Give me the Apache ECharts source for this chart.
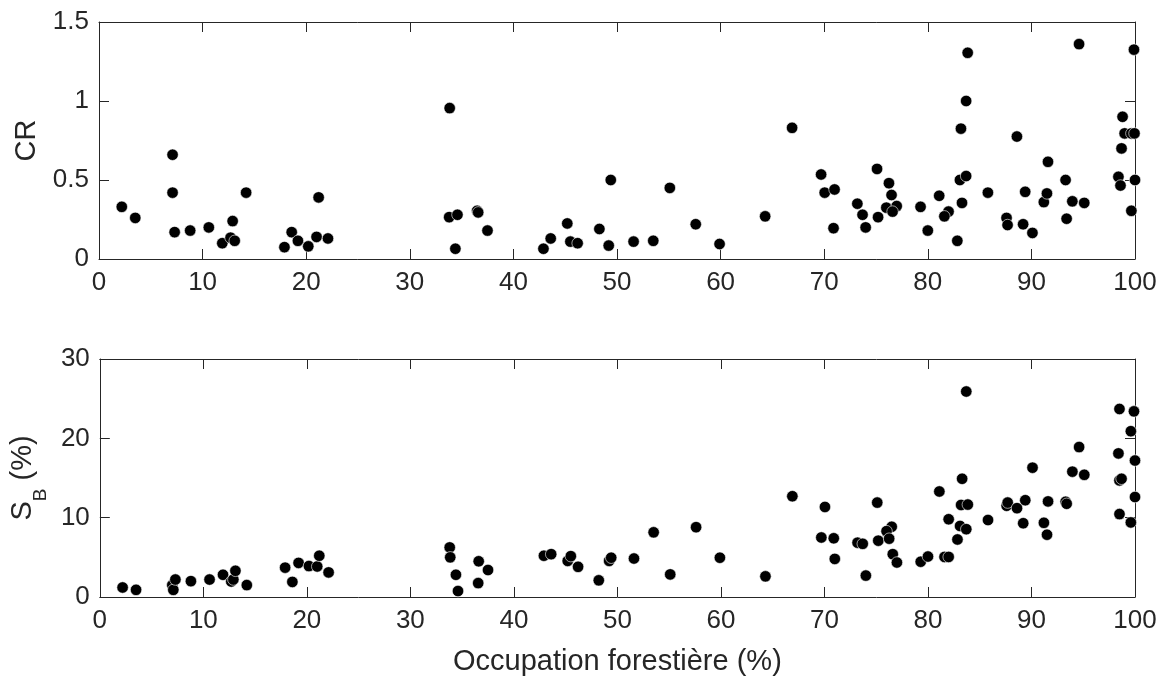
<!DOCTYPE html>
<html>
<head>
<meta charset="utf-8">
<script src="https://cdn.jsdelivr.net/npm/echarts@6/dist/echarts.min.js"></script>
<style>
  html, body { margin: 0; padding: 0; background: #fff; }
  #chart { width: 1163px; height: 679px; }
</style>
</head>
<body>
<div id="chart"></div>
<script>
// données : [occupation forestière (%), valeur]
var xTicks = [0, 10, 20, 30, 40, 50, 60, 70, 80, 90, 100];
var crTicks = [0, 0.5, 1, 1.5];
var sbTicks = [0, 10, 20, 30];

var crPoints = [
  [2.2, 0.33], [3.5, 0.26], [7.1, 0.66], [7.1, 0.42], [7.3, 0.17], [8.8, 0.18], [10.6, 0.20],
  [11.9, 0.10], [12.9, 0.24], [12.7, 0.135], [13.1, 0.115], [14.2, 0.42], [17.9, 0.075],
  [18.6, 0.17], [19.2, 0.115], [20.2, 0.08], [21.0, 0.14], [21.2, 0.39], [22.1, 0.13],
  [33.85, 0.955], [33.8, 0.265], [34.6, 0.28], [34.4, 0.065], [36.5, 0.305], [36.6, 0.295],
  [37.5, 0.18], [42.9, 0.065], [43.6, 0.13], [45.2, 0.225], [45.5, 0.11], [46.2, 0.10],
  [48.3, 0.19], [49.2, 0.085], [49.4, 0.50], [51.6, 0.11], [53.5, 0.115], [55.1, 0.45],
  [57.6, 0.22], [59.9, 0.095], [64.3, 0.27],
  [66.9, 0.83], [69.7, 0.535], [70.05, 0.42], [71.0, 0.44], [70.9, 0.195], [73.2, 0.35],
  [73.7, 0.28], [74.0, 0.20], [75.1, 0.57], [75.2, 0.265], [76.25, 0.48], [76.5, 0.405],
  [76.0, 0.325], [77.0, 0.335], [76.6, 0.30], [79.3, 0.33], [80.0, 0.18], [81.1, 0.40],
  [82.0, 0.30], [81.6, 0.27], [83.3, 0.355], [82.85, 0.115], [83.1, 0.50], [83.7, 0.525],
  [83.2, 0.825], [83.7, 1.0], [83.85, 1.305], [85.8, 0.42], [87.6, 0.26], [87.7, 0.215],
  [88.6, 0.775], [89.2, 0.22], [89.4, 0.425], [90.1, 0.165], [91.2, 0.36], [91.5, 0.415],
  [91.6, 0.615], [93.3, 0.50], [93.4, 0.255], [93.95, 0.365], [95.1, 0.355], [94.6, 1.36],
  [98.4, 0.52], [98.6, 0.465], [98.7, 0.70], [98.8, 0.90], [99.0, 0.795], [99.65, 0.795],
  [99.95, 0.795], [99.9, 1.325], [100, 0.50], [99.65, 0.305]
];

var sbPoints = [
  [2.2, 1.2], [3.5, 0.9], [7.0, 1.5], [7.1, 0.9], [7.3, 2.2], [8.8, 2.0], [10.6, 2.2],
  [11.9, 2.8], [12.7, 1.95], [12.9, 2.2], [13.1, 3.3], [14.2, 1.5], [17.9, 3.7], [18.6, 1.9],
  [19.2, 4.3], [20.2, 3.9], [21.0, 3.85], [21.2, 5.2], [22.1, 3.1],
  [33.8, 6.25], [33.85, 5.0], [34.4, 2.8], [34.6, 0.75], [36.6, 4.5], [36.55, 1.75],
  [37.5, 3.4], [42.9, 5.2], [43.6, 5.4], [45.2, 4.55], [45.5, 5.15], [46.2, 3.8], [48.2, 2.1],
  [49.2, 4.55], [49.4, 4.95], [51.6, 4.85], [53.5, 8.15], [55.1, 2.85], [57.6, 8.8],
  [59.9, 4.95], [64.3, 2.6],
  [66.9, 12.7], [70.05, 11.35], [69.7, 7.5], [70.9, 7.4], [71.0, 4.8], [73.2, 6.85],
  [73.7, 6.7], [74.0, 2.7], [75.1, 11.9], [75.2, 7.1], [76.5, 8.85], [76.0, 8.3],
  [76.25, 7.35], [76.6, 5.4], [77.0, 4.35], [79.3, 4.45], [80.0, 5.1], [81.1, 13.3],
  [81.6, 5.05], [82.0, 5.05], [82.0, 9.8], [82.85, 7.25], [83.1, 8.95], [83.7, 8.55],
  [83.2, 11.6], [83.85, 11.65], [83.3, 14.9], [83.7, 25.9], [85.8, 9.7], [87.6, 11.5],
  [87.7, 11.9], [88.6, 11.2], [89.4, 12.2], [89.2, 9.3], [90.1, 16.3], [91.2, 9.35],
  [91.5, 7.85], [91.6, 12.05], [93.3, 12.0], [93.4, 11.75], [93.95, 15.8], [95.1, 15.4],
  [94.6, 18.9],
  [98.5, 23.7], [98.4, 18.1], [98.5, 14.7], [98.7, 14.9], [98.5, 10.45], [99.9, 23.4],
  [99.6, 20.9], [100, 17.2], [100, 12.6], [99.6, 9.4]
];

var axisColor = '#262626';
var font = 'Liberation Sans, Arial, Helvetica, sans-serif';

function xAxisDef(grid, pos, showLabels, name) {
  return {
    type: 'value', gridIndex: grid, position: pos,
    min: xTicks[0], max: xTicks[xTicks.length - 1], interval: 10,
    splitLine: { show: false },
    axisLine: { show: true, onZero: false, lineStyle: { color: axisColor, width: 1 } },
    axisTick: { show: true, inside: true, length: 10, lineStyle: { color: axisColor } },
    axisLabel: { show: showLabels, color: axisColor, fontSize: 26, fontFamily: font, margin: 11 },
    name: name || '', nameLocation: 'middle', nameGap: 50,
    nameTextStyle: { color: axisColor, fontSize: 29, fontFamily: font }
  };
}

function yAxisDef(grid, pos, ticks, showLabels, name, nameGap, rich) {
  return {
    type: 'value', gridIndex: grid, position: pos,
    min: ticks[0], max: ticks[ticks.length - 1], interval: ticks[1] - ticks[0],
    splitLine: { show: false },
    axisLine: { show: true, onZero: false, lineStyle: { color: axisColor, width: 1 } },
    axisTick: { show: true, inside: true, length: 10, lineStyle: { color: axisColor } },
    axisLabel: { show: showLabels, color: axisColor, fontSize: 26, fontFamily: font, margin: 10 },
    name: name || '', nameLocation: 'middle', nameGap: nameGap || 0, nameRotate: 90,
    nameTextStyle: { color: axisColor, fontSize: 29, fontFamily: font, rich: rich }
  };
}

var subRich = {
  n: { fontSize: 29, fontFamily: font, color: axisColor, lineHeight: 32, verticalAlign: 'top' },
  s: { fontSize: 19, fontFamily: font, color: axisColor, lineHeight: 19, padding: [23, 0, 0, 0], verticalAlign: 'top' }
};

var myChart = echarts.init(document.getElementById('chart'));

var option = {
  backgroundColor: '#fff',
  animation: false,
  grid: [
    { left: 99, right: 28, top: 22, height: 237 },
    { left: 99, right: 28, top: 359, height: 238 }
  ],
  xAxis: [
    xAxisDef(0, 'bottom', true),
    xAxisDef(0, 'top', false),
    xAxisDef(1, 'bottom', true, 'Occupation forestière (%)'),
    xAxisDef(1, 'top', false)
  ],
  yAxis: [
    yAxisDef(0, 'left', crTicks, true, 'CR', 52),
    yAxisDef(0, 'right', crTicks, false),
    yAxisDef(1, 'left', sbTicks, true, '{n|S}{s|B}{n| (%)}', 47, subRich),
    yAxisDef(1, 'right', sbTicks, false)
  ],
  series: [
    {
      type: 'scatter', xAxisIndex: 0, yAxisIndex: 0, data: crPoints,
      symbol: 'circle', symbolSize: 11.5, clip: false,
      itemStyle: { color: '#000', opacity: 1, borderColor: '#fff', borderWidth: 0.6 }
    },
    {
      type: 'scatter', xAxisIndex: 2, yAxisIndex: 2, data: sbPoints,
      symbol: 'circle', symbolSize: 11.5, clip: false,
      itemStyle: { color: '#000', opacity: 1, borderColor: '#fff', borderWidth: 0.6 }
    }
  ]
};

myChart.setOption(option);
</script>
</body>
</html>
